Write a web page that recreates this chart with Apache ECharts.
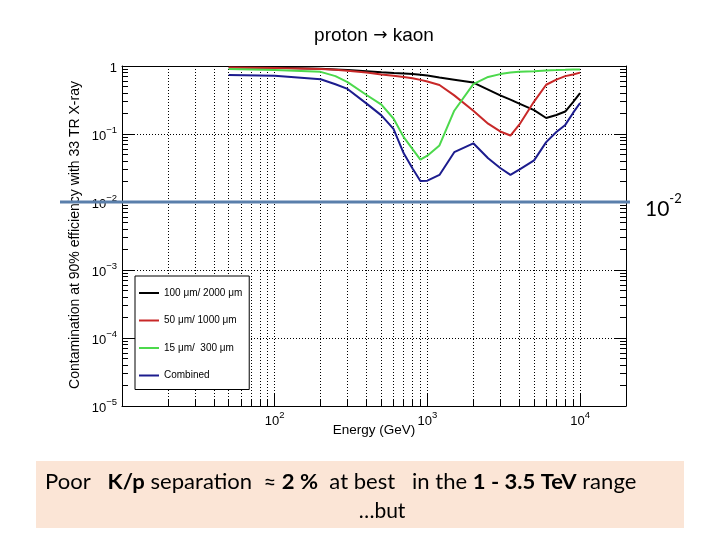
<!DOCTYPE html>
<html><head><meta charset="utf-8">
<script src="https://cdn.jsdelivr.net/npm/echarts@6/dist/echarts.min.js"></script>
<style>html,body{margin:0;padding:0;background:#fff}#c{width:720px;height:540px}</style>
</head><body><div id="c"></div>
<script>
// ---- data ----
const energies = [50,100,200,250,300,400,500,600,700,800,900,1000,1200,1500,2000,2500,3000,3500,4000,5000,6000,7000,8000,9000,10000];
const black100 = [0.956,0.94,0.91,0.89,0.87,0.84,0.81,0.79,0.775,0.76,0.745,0.725,0.68,0.63,0.57,0.45,0.37,0.32,0.28,0.225,0.172,0.19,0.214,0.295,0.40];
const red50    = [0.95,0.935,0.90,0.88,0.85,0.80,0.75,0.72,0.69,0.66,0.625,0.59,0.525,0.37,0.22,0.142,0.109,0.095,0.137,0.30,0.53,0.63,0.71,0.75,0.80];
const green15  = [0.90,0.87,0.82,0.71,0.58,0.375,0.27,0.169,0.090,0.060,0.042,0.048,0.068,0.22,0.54,0.69,0.76,0.80,0.82,0.84,0.86,0.87,0.88,0.89,0.89];
const combined = [0.74,0.72,0.64,0.54,0.46,0.28,0.188,0.119,0.052,0.031,0.0204,0.0206,0.025,0.054,0.073,0.044,0.0316,0.025,0.030,0.041,0.076,0.107,0.136,0.204,0.286];
const seriesNames = ['100 \u03bcm/ 2000 \u03bcm', '50 \u03bcm/ 1000 \u03bcm', '15 \u03bcm/  300 \u03bcm', 'Combined'];
const seriesColors = ['#000000', '#c82828', '#4cd94c', '#1c1c8e'];
const xMajorTicks = [100, 1000, 10000];
const xMinorTicks = [20,30,40,50,60,70,80,90,200,300,400,500,600,700,800,900,2000,3000,4000,5000,6000,7000,8000,9000];
const yMajorTicks = [1e-5, 1e-4, 1e-3, 1e-2, 1e-1, 1];
const yMinorTicks = [];
[1e-5,1e-4,1e-3,1e-2,1e-1].forEach(d => { [2,3,4,5,6,7,8,9].forEach(m => yMinorTicks.push(+(m*d).toPrecision(3))); });
const referenceLevel = 0.01;
const xTitle = 'Energy (GeV)';
const yTitle = 'Contamination at 90% efficiency with 33 TR X-ray';

const FONT = 'Liberation Sans';
function powLabel(v) {
  const e = Math.round(Math.log10(v));
  if (e === 0) return '{b|1}';
  return '{b|10}{s|' + (e < 0 ? '\u2212' + (-e) : e) + '}';
}
const rich = {
  b: { fontSize: 13, fontFamily: FONT, color: '#000', padding: [5, 0, 0, 0] },
  s: { fontSize: 9.5, fontFamily: FONT, color: '#000', verticalAlign: 'top' }
};
const dotted = { color: '#000', width: 1, type: [1, 2] };

const chart = echarts.init(document.getElementById('c'), null, { renderer: 'canvas' });
const xBase = { type: 'log', logBase: 10, min: 10, max: 20000, gridIndex: 0 };
const yBase = { type: 'log', logBase: 10, min: 1e-5, max: 1, gridIndex: 0 };

chart.setOption({
  animation: false,
  backgroundColor: '#ffffff',
  grid: { left: 122, top: 66, width: 504, height: 340, containLabel: false },
  legend: {
    orient: 'vertical', left: 135, top: 276,
    icon: 'rect', itemWidth: 20, itemHeight: 2, itemGap: 17.5, itemTextGap: 5,
    padding: [12, 7, 9, 4],
    borderColor: '#000', borderWidth: 1, backgroundColor: '#fff',
    textStyle: { fontFamily: FONT, fontSize: 10, color: '#000' },
    data: seriesNames
  },
  xAxis: [
    Object.assign({}, xBase, {
      position: 'bottom',
      axisLine: { show: true, lineStyle: { color: '#000', width: 1 } },
      axisTick: { show: true, inside: true, length: 12, customValues: xMajorTicks, lineStyle: { color: '#000' } },
      axisLabel: { show: true, customValues: xMajorTicks, formatter: powLabel, rich: rich, margin: 4, color: '#000' },
      splitLine: { show: true, lineStyle: dotted },
      minorTick: { show: false }, minorSplitLine: { show: false }
    }),
    Object.assign({}, xBase, {
      position: 'bottom',
      axisLine: { show: false },
      axisTick: { show: true, inside: true, length: 6, customValues: xMinorTicks, lineStyle: { color: '#000' } },
      axisLabel: { show: false },
      splitLine: { show: true, lineStyle: dotted }
    }),
    Object.assign({}, xBase, {
      position: 'top',
      axisLine: { show: true, lineStyle: { color: '#000', width: 1 } },
      axisTick: { show: false }, axisLabel: { show: false }, splitLine: { show: false }
    })
  ],
  yAxis: [
    Object.assign({}, yBase, {
      position: 'left',
      axisLine: { show: true, lineStyle: { color: '#000', width: 1 } },
      axisTick: { show: true, inside: true, length: 12, customValues: yMajorTicks, lineStyle: { color: '#000' } },
      axisLabel: { show: true, customValues: yMajorTicks, formatter: powLabel, rich: rich, margin: 5, color: '#000' },
      splitLine: { show: true, lineStyle: dotted }
    }),
    Object.assign({}, yBase, {
      position: 'left',
      axisLine: { show: false },
      axisTick: { show: true, inside: true, length: 6, customValues: yMinorTicks, lineStyle: { color: '#000' } },
      axisLabel: { show: false }, splitLine: { show: false }
    }),
    Object.assign({}, yBase, {
      position: 'right',
      axisLine: { show: true, lineStyle: { color: '#000', width: 1 } },
      axisTick: { show: true, inside: true, length: 12, customValues: yMajorTicks, lineStyle: { color: '#000' } },
      axisLabel: { show: false }, splitLine: { show: false }
    }),
    Object.assign({}, yBase, {
      position: 'right',
      axisLine: { show: false },
      axisTick: { show: true, inside: true, length: 6, customValues: yMinorTicks, lineStyle: { color: '#000' } },
      axisLabel: { show: false }, splitLine: { show: false }
    })
  ],
  series: [black100, red50, green15, combined].map((vals, i) => ({
    name: seriesNames[i], type: 'line', xAxisIndex: 0, yAxisIndex: 0,
    showSymbol: false, symbol: 'none', smooth: false,
    color: seriesColors[i],
    lineStyle: { color: seriesColors[i], width: 2 },
    data: energies.map((e, k) => [e, vals[k]])
  }))
});

const yRef = chart.convertToPixel({ yAxisIndex: 0 }, referenceLevel);
const BOXFONT = 'Lato';
chart.setOption({
  graphic: [
    { type: 'text', x: 374, y: 36, style: {
        text: '{t|proton }{a|\u2192}{t| kaon}', textAlign: 'center', textVerticalAlign: 'middle',
        rich: { t: { fontSize: 19, fontFamily: FONT, fill: '#000' }, a: { fontSize: 17, fontFamily: 'DejaVu Sans', fill: '#000' } }
      } },
    { type: 'text', x: 374, y: 430, style: { text: xTitle, font: '13.5px "' + FONT + '"', fill: '#000', textAlign: 'center', textVerticalAlign: 'middle' } },
    { type: 'text', x: 75, y: 235, rotation: Math.PI / 2, style: { text: yTitle, font: '14px "' + FONT + '"', fill: '#000', textAlign: 'center', textVerticalAlign: 'middle' } },
    { type: 'line', shape: { x1: 60, y1: yRef, x2: 630, y2: yRef }, style: { stroke: '#5a7fab', lineWidth: 3 }, z: 50 },
    { type: 'text', x: 645, y: yRef + 4, style: {
        text: '{n|10}{e|-2}', textAlign: 'left', textVerticalAlign: 'middle',
        rich: { n: { fontSize: 21, fontFamily: BOXFONT, fill: '#000', padding: [7, 0, 0, 0] }, e: { fontSize: 13, fontFamily: BOXFONT, fill: '#000', verticalAlign: 'top' } }
      } },
    { type: 'rect', shape: { x: 36, y: 461, width: 648, height: 67 }, style: { fill: '#fbe5d6' }, z: 1 },
    { type: 'text', x: 45, y: 482, scaleX: 1.05, z: 2, style: {
        text: '{r|Poor   }{k|K/p}{r| separation  \u2248 }{k|2 %}{r|  at best   in the }{k|1 - 3.5 TeV}{r| range}',
        textAlign: 'left', textVerticalAlign: 'middle',
        rich: { r: { fontSize: 21, fontFamily: BOXFONT, fill: '#000' }, k: { fontSize: 21, fontFamily: BOXFONT, fontWeight: 'bold', fill: '#000' } }
      } },
    { type: 'text', x: 382, y: 511, z: 2, style: { text: '\u2026but', font: '21px "' + BOXFONT + '"', fill: '#000', textAlign: 'center', textVerticalAlign: 'middle' } }
  ]
});
</script>
</body></html>
